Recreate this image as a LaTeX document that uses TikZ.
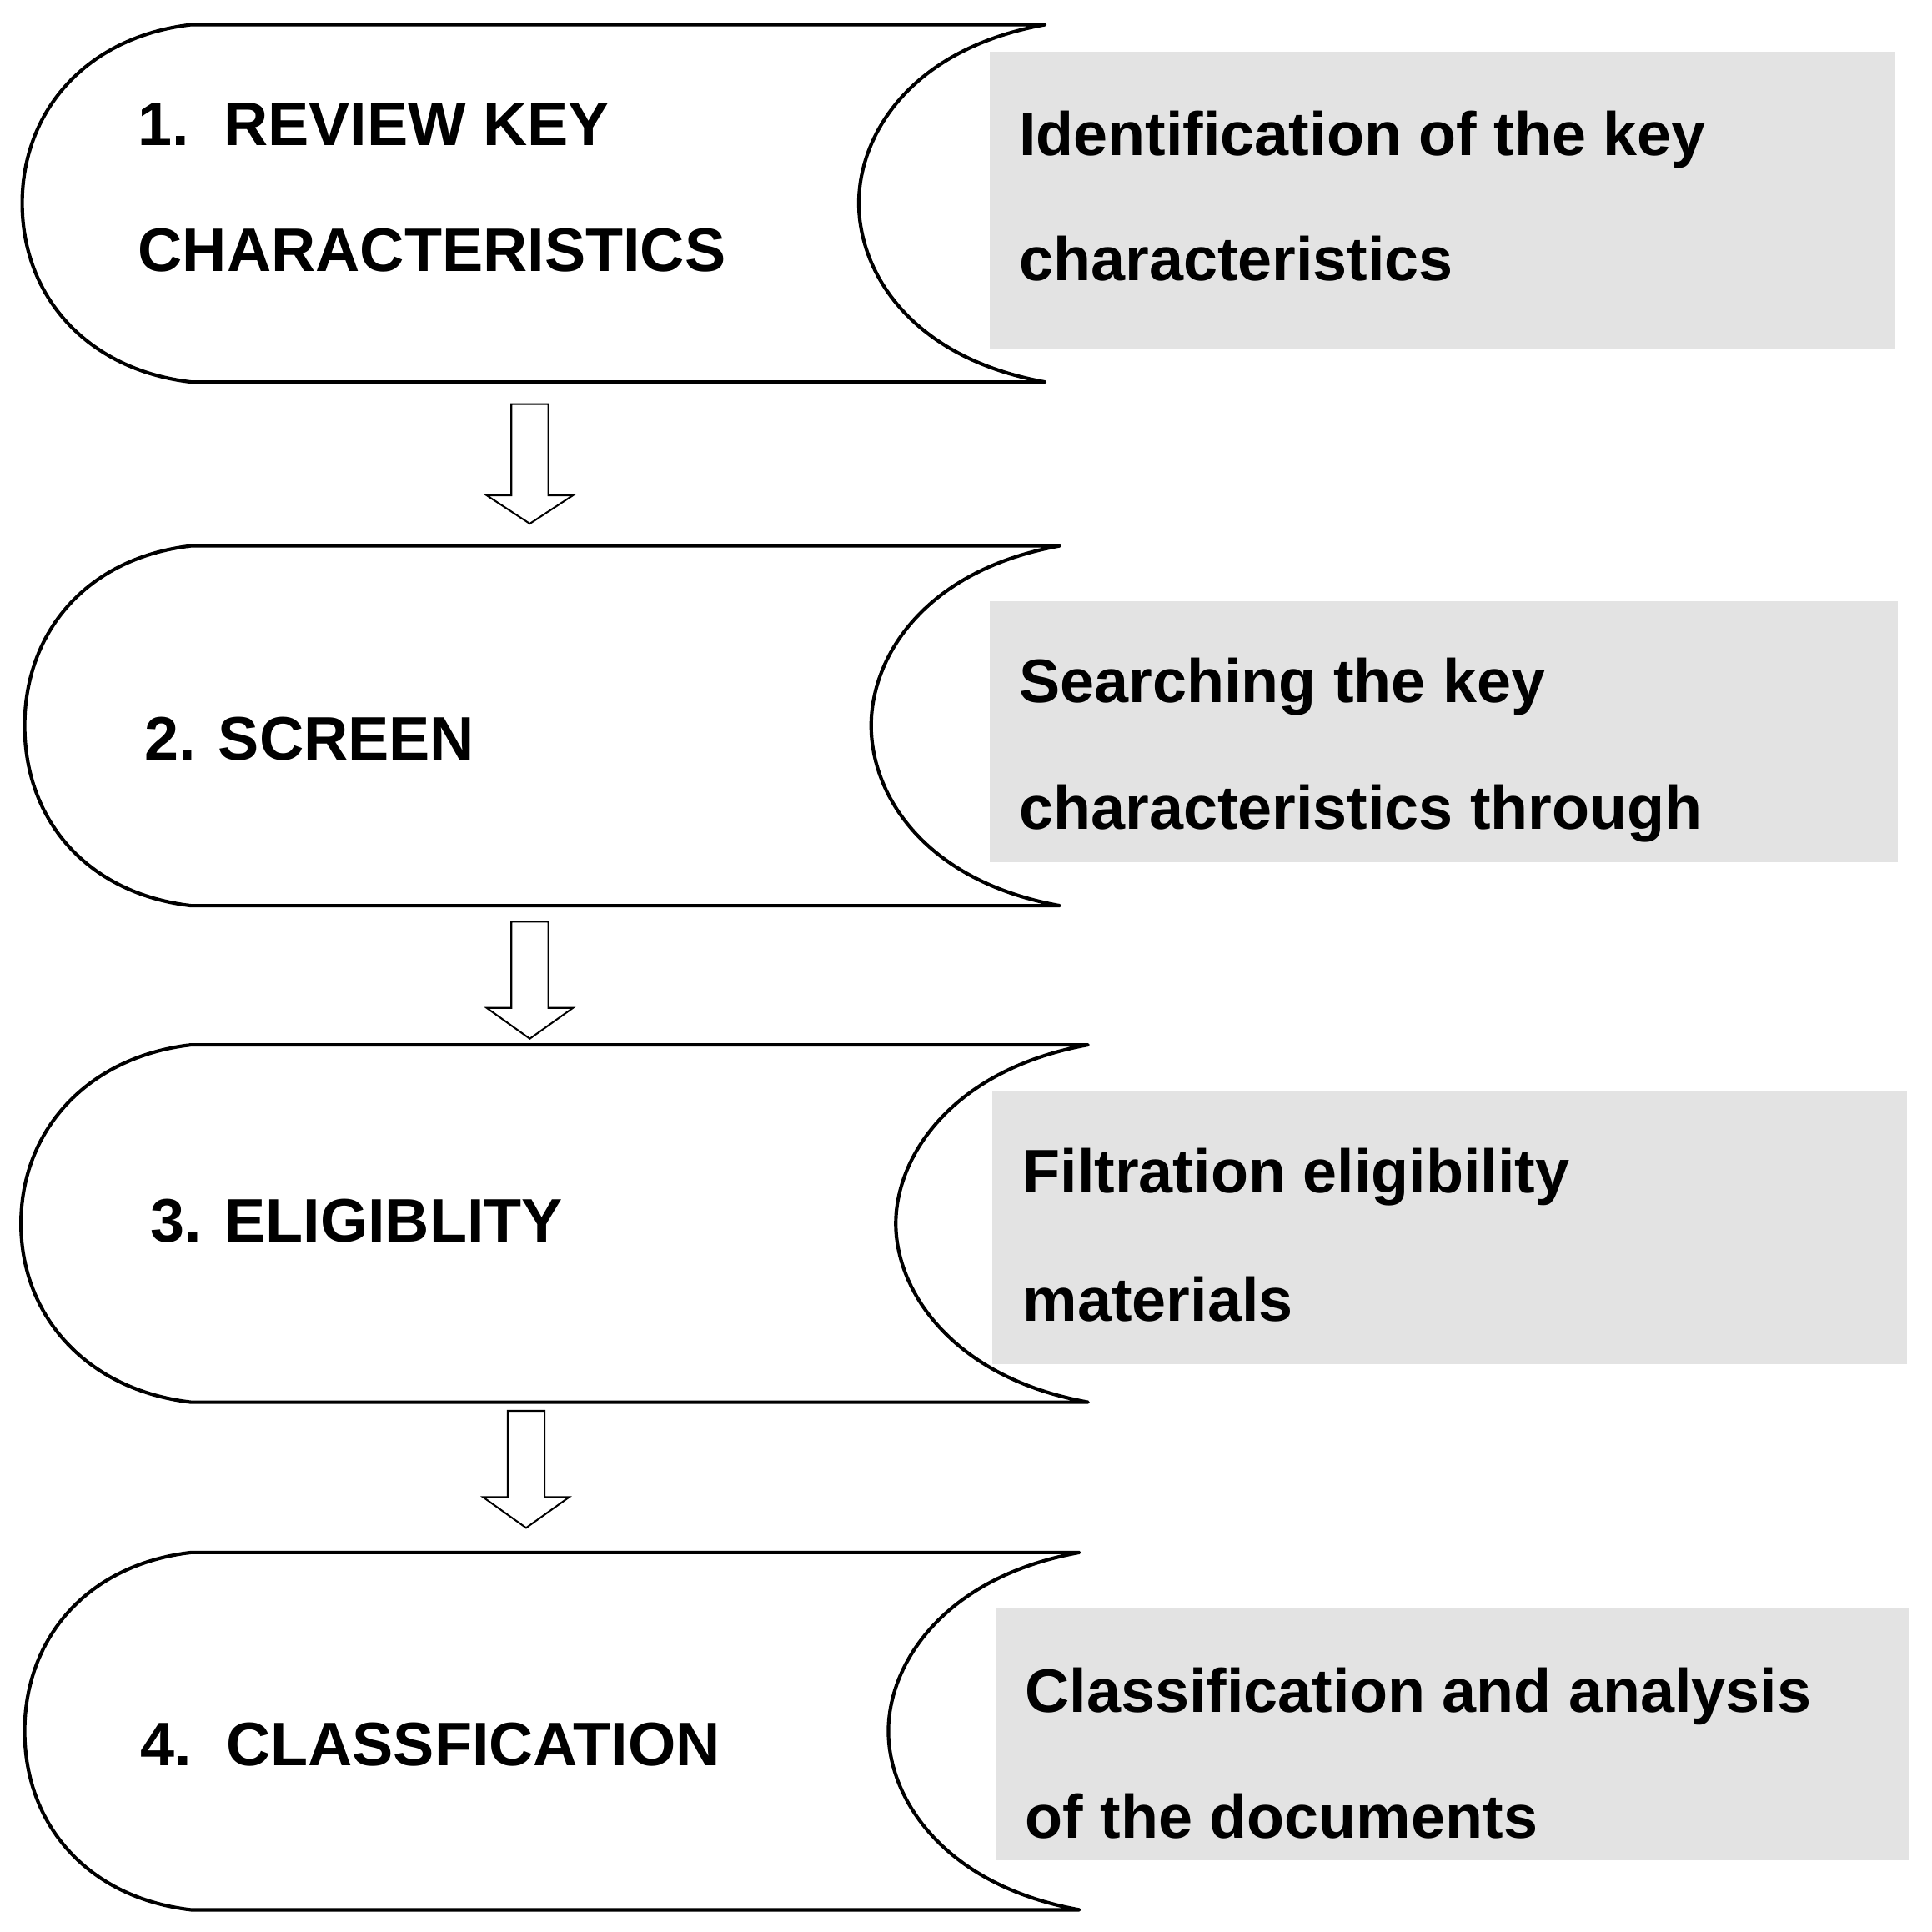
\documentclass[tikz,border=0pt]{standalone}
\usepackage{fontspec}
\setmainfont{Liberation Sans}
\begin{document}
\begin{tikzpicture}[x=0.05cm,y=-0.05cm,
  box/.style={draw=black,line width=4pt,fill=white,line join=round},
  gray/.style={fill=black!11,draw=none},
  txt/.style={anchor=base west,inner sep=0pt,font=\fontsize{71}{71}\selectfont\bfseries},
  arr/.style={draw=black,line width=2pt,fill=white,line join=miter}]
\useasboundingbox (0,0) rectangle (1568,1568);
\fill[white] (0,0) rectangle (1568,1568);
% shapes: left x, top, bottom, tip x, inner x
\foreach \l/\t/\b/\r/\i in {18/20/310/848/697, 20/443/735/860/707, 17/848/1138/883/727, 20/1260/1550/876/721}{
  \pgfmathsetmacro\m{(\t+\b)/2}
  \path[box] (155,\t) -- (\r,\t) .. controls (\r-110,\t+20) and (\i,\t+90) .. (\i,\m)
    .. controls (\i,\b-90) and (\r-110,\b-20) .. (\r,\b) -- (155,\b)
    .. controls (70,\b-10) and (\l,\b-70) .. (\l,\m)
    .. controls (\l,\t+70) and (70,\t+10) .. cycle;
}
\fill[gray] (803,42) rectangle (1538,283);
\fill[gray] (803,488) rectangle (1540,700);
\fill[gray] (805,885) rectangle (1548,1107);
\fill[gray] (808,1305) rectangle (1550,1510);
% arrows
\foreach \x/\t/\h/\e in {430/328/402/425, 430/748/818/843, 427/1145/1215/1240}{
  \path[arr] (\x-15,\t) -- (\x+15,\t) -- (\x+15,\h) -- (\x+35,\h) -- (\x,\e) -- (\x-35,\h) -- (\x-15,\h) -- cycle;
}
\node[txt] (a1) at (112,118) {1.\ \ REVIEW KEY};
\node[txt] (a2) at (112,220) {CHARACTERISTICS};
\node[txt] (b1) at (117,617) {2. SCREEN};
\node[txt] (c1) at (122,1008) {3. ELIGIBLITY};
\node[txt] (d1) at (114,1433) {4.\ \ CLASSFICATION};
\node[txt] (g1) at (827,126) {Identification of the key};
\node[txt] (g2) at (827,228) {characteristics};
\node[txt] (h1) at (827,570) {Searching the key};
\node[txt] (h2) at (827,673) {characteristics through};
\node[txt] (i1) at (830,968) {Filtration eligibility};
\node[txt] (i2) at (830,1072) {materials};
\node[txt] (j1) at (832,1390) {Classification and analysis};
\node[txt] (j2) at (832,1492) {of the documents};
\end{tikzpicture}
\end{document}
